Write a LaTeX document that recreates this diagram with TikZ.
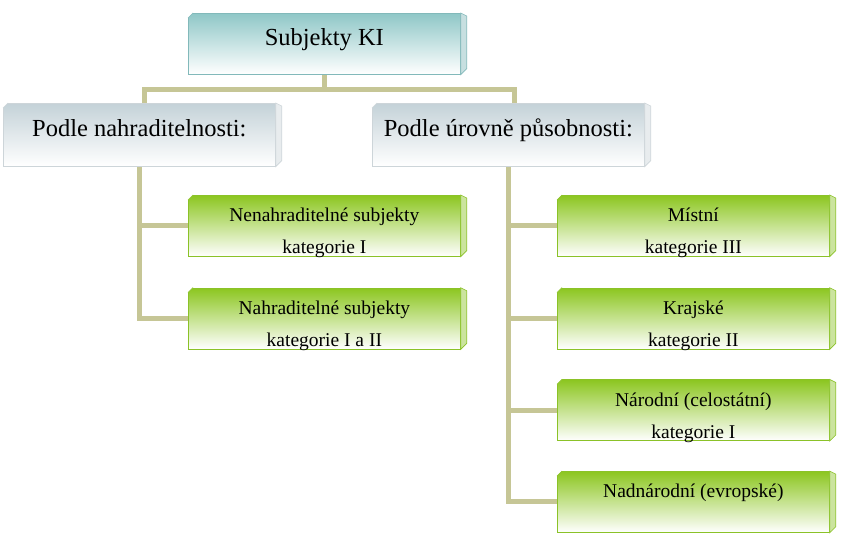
\documentclass[tikz,border=0pt]{standalone}
\usepackage{fontspec}
\setmainfont{Liberation Serif}
\usepackage{xcolor}
\usetikzlibrary{positioning,backgrounds}

\definecolor{tealtop}{RGB}{143,199,199}
\definecolor{tealline}{RGB}{130,185,186}
\definecolor{greytop}{RGB}{196,210,216}
\definecolor{greyline}{RGB}{205,213,217}
\definecolor{greentop}{RGB}{140,198,32}
\definecolor{greenline}{RGB}{139,194,40}
\definecolor{khaki}{RGB}{198,198,150}

% bevelled corner and side face of a box
\newcommand{\boxedge}[2]{%
  \fill[white] ([shift={(-1pt,1pt)}]#1.north west) -- ([xshift=5pt,yshift=1pt]#1.north west)
    -- ([xshift=5pt]#1.north west) -- ([yshift=-5pt]#1.north west) -- ([xshift=-1pt,yshift=-5pt]#1.north west) -- cycle;
  \draw[#2, line width=0.7pt] ([xshift=5pt]#1.north west) -- ([yshift=-5pt]#1.north west);
  \filldraw[draw=#2, fill=#2!45!white, line width=0.6pt]
    (#1.north east) -- ([xshift=6pt,yshift=-3pt]#1.north east)
    -- ([xshift=6pt,yshift=6pt]#1.south east) -- (#1.south east) -- cycle;}

\begin{document}
\begin{tikzpicture}[x=1pt, y=-1pt]
    \tikzstyle{box} = [rectangle, draw, line width=0.7pt, anchor=north west, inner sep=0pt,
      minimum width=272pt, align=center]
    \tikzstyle{head} = [box, minimum height=61pt, draw=tealline, top color=tealtop, bottom color=white,
      font=\fontsize{24.5}{29}\selectfont, text height=17pt, text depth=14pt]
    \tikzstyle{group} = [box, minimum height=63pt, draw=greyline, top color=greytop, bottom color=white,
      font=\fontsize{24.5}{29}\selectfont, text height=17pt, text depth=14pt]
    \tikzstyle{item} = [box, minimum height=61pt, draw=greenline, top color=greentop, bottom color=white,
      font=\fontsize{19.5}{32}\selectfont, text height=58.5pt, text depth=2.5pt]
    \tikzstyle{conn} = [draw=khaki, line width=5pt]

    \useasboundingbox (0,0) rectangle (866,553);

    \node [head] (root) at (188,13) {Subjekty KI};
    \node [group] (byrepl) at (3,103) {Podle nahraditelnosti:};
    \node [group] (byscope) at (372,103) {Podle úrovně působnosti:};

    \node [item] (irrepl) at (188,195) {Nenahraditelné subjekty\\kategorie I};
    \node [item, below=31pt of irrepl.south west, anchor=north west] (repl) {Nahraditelné subjekty\\kategorie I a II};

    \node [item] (local) at (557,195) {Místní\\kategorie III};
    \node [item, below=31pt of local.south west, anchor=north west] (region) {Krajské\\kategorie II};
    \node [item, below=30pt of region.south west, anchor=north west] (nation) {Národní (celostátní)\\kategorie I};
    \node [item, below=30pt of nation.south west, anchor=north west,
           text height=26.5pt, text depth=34.5pt] (europe) {Nadnárodní (evropské)};

    \boxedge{root}{tealline}
    \boxedge{byrepl}{greyline}
    \boxedge{byscope}{greyline}
    \foreach \n in {irrepl, repl, local, region, nation, europe}
        {\boxedge{\n}{greenline}}

    \begin{scope}[on background layer]
        \coordinate (hub) at ([yshift=-15pt]root.south);
        \path [conn] (root.south) -- (hub);
        \path [conn] ([xshift=5pt]byrepl.north) |- (hub) -| ([xshift=6pt]byscope.north);
        \path [conn] (byrepl.south) |- (repl.west);
        \path [conn] (byrepl.south |- irrepl.west) -- (irrepl.west);
        \path [conn] (byscope.south) |- (europe.west);
        \foreach \n in {local, region, nation}
            \path [conn] (byscope.south |- \n.west) -- (\n.west);
    \end{scope}
\end{tikzpicture}
\end{document}
